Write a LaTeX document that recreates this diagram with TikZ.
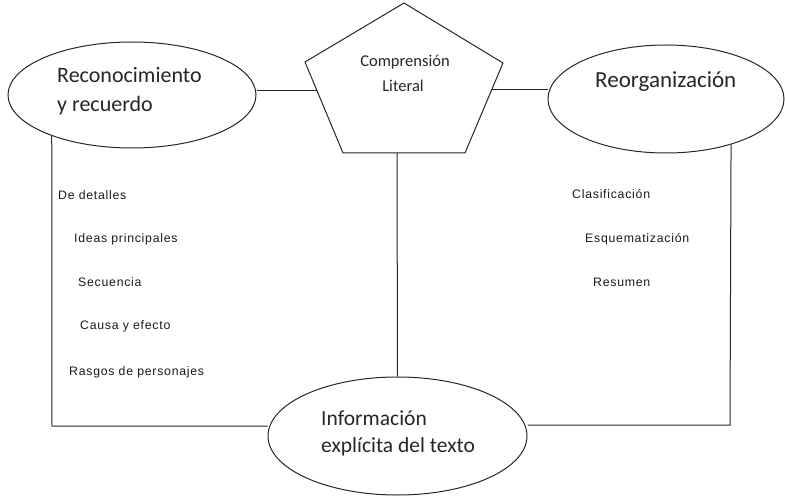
\documentclass[tikz,border=0pt]{standalone}
\usepackage{fontspec}
\setmainfont{Carlito}
\newfontfamily\listfont[LetterSpace=6]{Liberation Sans}
\usetikzlibrary{shapes.geometric,calc}
\tikzset{
  oval/.style={draw=black!85, line width=1pt, ellipse, inner sep=0pt},
  conn/.style={draw=black!85, line width=1pt},
  big/.style={font=\fontsize{22}{26}\selectfont, text=black!85, inner sep=0pt},
  mid/.style={font=\fontsize{16.5}{20}\selectfont, text=black!85, inner sep=0pt},
  item/.style={font=\listfont\fontsize{12.3}{14}\selectfont, text=black!90, inner sep=0pt, anchor=base west},
}
\begin{document}
\begin{tikzpicture}[x=1pt,y=-1pt]
\useasboundingbox (0,0) rectangle (785,497);
% shapes
\node[oval, minimum width=248pt, minimum height=106pt] (rec) at (132,95) {};
\node[oval, minimum width=236pt, minimum height=108pt] (reo) at (666,99) {};
\node[oval, minimum width=259pt, minimum height=118pt] (info) at (397.5,436) {};
% pentagon
\coordinate (pT) at (404,3);
\coordinate (pL) at (305,62);
\coordinate (pR) at (503,63);
\coordinate (pBL) at (343,153);
\coordinate (pBR) at (465,153);
\draw[conn, line join=miter] (pT) -- (pR) -- (pBR) -- (pBL) -- (pL) -- cycle;
\coordinate (pl) at ($(pL)!0.31!(pBL)$);
\coordinate (pr) at ($(pR)!0.29!(pBR)$);
\coordinate (pb) at (397,153);
% texts
\node[big, anchor=base west] (t1) at (57,83) {Reconocimiento};
\node[big, anchor=base west] (t2) at (57,112) {y recuerdo};
\node[big, font=\fontsize{23}{26}\selectfont, anchor=base west] (t3) at (595,88) {Reorganización};
\node[mid, anchor=base] (t4) at (405,67) {Comprensión};
\node[mid, anchor=base] (t5) at (403,92) {Literal};
\node[big, font=\fontsize{21.5}{26}\selectfont, anchor=base west] (t6) at (321,425) {Información};
\node[big, font=\fontsize{21.5}{26}\selectfont, anchor=base west] (t7) at (321,452) {explícita del texto};
% list items
\node[item] (l1) at (58,200) {De detalles};
\node[item] (l2) at (74,243) {Ideas principales};
\node[item] (l3) at (78,287) {Secuencia};
\node[item] (l4) at (80,330) {Causa y efecto};
\node[item] (l5) at (69,375) {Rasgos de personajes};
\node[item] (r1) at (572,199) {Clasificación};
\node[item] (r2) at (585,243) {Esquematización};
\node[item] (r3) at (593,287) {Resumen};
% connectors
\draw[conn] (rec.east |- pl) -- (pl);
\draw[conn] (pr) -- (reo.west |- pr);
\draw[conn] (pb) -- (info.north);
\coordinate (cl) at (52,426);
\coordinate (cr) at (730,425);
\draw[conn] (rec.-153) -- (cl) -- (info.west |- cl);
\draw[conn] (reo.-35) -- (cr) -- (info.east |- cr);
\end{tikzpicture}
\end{document}
